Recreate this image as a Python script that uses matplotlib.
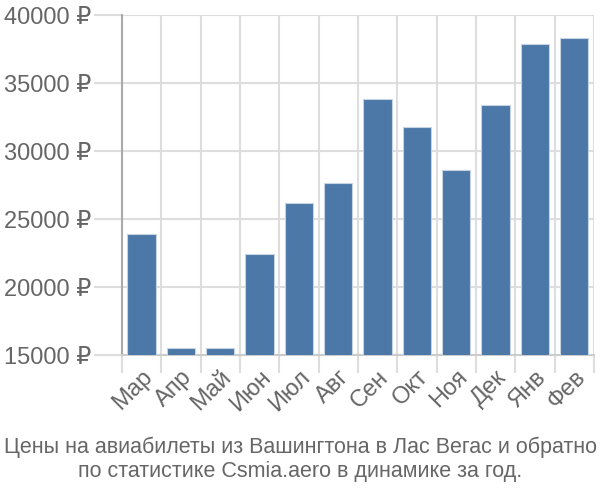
import matplotlib.pyplot as plt
import numpy as np

# данные
months = ["Мар", "Апр", "Май", "Июн", "Июл", "Авг", "Сен", "Окт", "Ноя", "Дек", "Янв", "Фев"]
prices = [23900, 15540, 15540, 22430, 26150, 27620, 33800, 31740, 28580, 33400, 37870, 38330]
yticks = [15000, 20000, 25000, 30000, 35000, 40000]
caption = "Цены на авиабилеты из Вашингтона в Лас Вегас и обратно\nпо статистике Csmia.aero в динамике за год."

plt.rcParams['font.family'] = ['Liberation Sans', 'DejaVu Sans']
txt = '#666666'
grid_c = '#dddddd'

fig = plt.figure(figsize=(6, 5), dpi=100)
ax = fig.add_axes([0.203, 0.29, 0.787, 0.68])

x = np.arange(len(months))
ax.bar(x, prices, width=0.72, bottom=0, color='#4c78a8', edgecolor='#c5d3e3', linewidth=0.8, zorder=3)

ax.set_xlim(-0.5, len(months) - 0.5)
ax.set_ylim(15000, 40000)

# сетка по границам категорий
ax.set_xticks(np.arange(-0.5, len(months), 1), minor=False)
ax.set_xticklabels([])
ax.set_xticks(x, minor=True)
ax.set_xticklabels(months, minor=True, rotation=45, ha='right', va='top',
                   rotation_mode='anchor', fontsize=17, color=txt)
ax.tick_params(axis='x', which='minor', length=0, pad=8)
ax.tick_params(axis='x', which='major', length=13, color=grid_c, width=1.5)

ax.set_yticks(yticks)
ax.set_yticklabels([f"{v} ₽" for v in yticks], fontsize=17, color=txt)
ax.tick_params(axis='y', length=20, color=grid_c, width=1.5, pad=2)

ax.grid(True, which='major', color=grid_c, linewidth=1.5, zorder=0)
for s in ['top', 'right']:
    ax.spines[s].set_visible(False)
ax.spines['left'].set_color('#aaaaaa')
ax.spines['left'].set_linewidth(1.5)
ax.spines['bottom'].set_color('#cccccc')
ax.spines['bottom'].set_linewidth(1.5)

fig.text(0.5, 0.081, caption, ha='center', va='center', fontsize=15.5, color=txt, linespacing=1.2)

fig.savefig("out.png", dpi=100)
